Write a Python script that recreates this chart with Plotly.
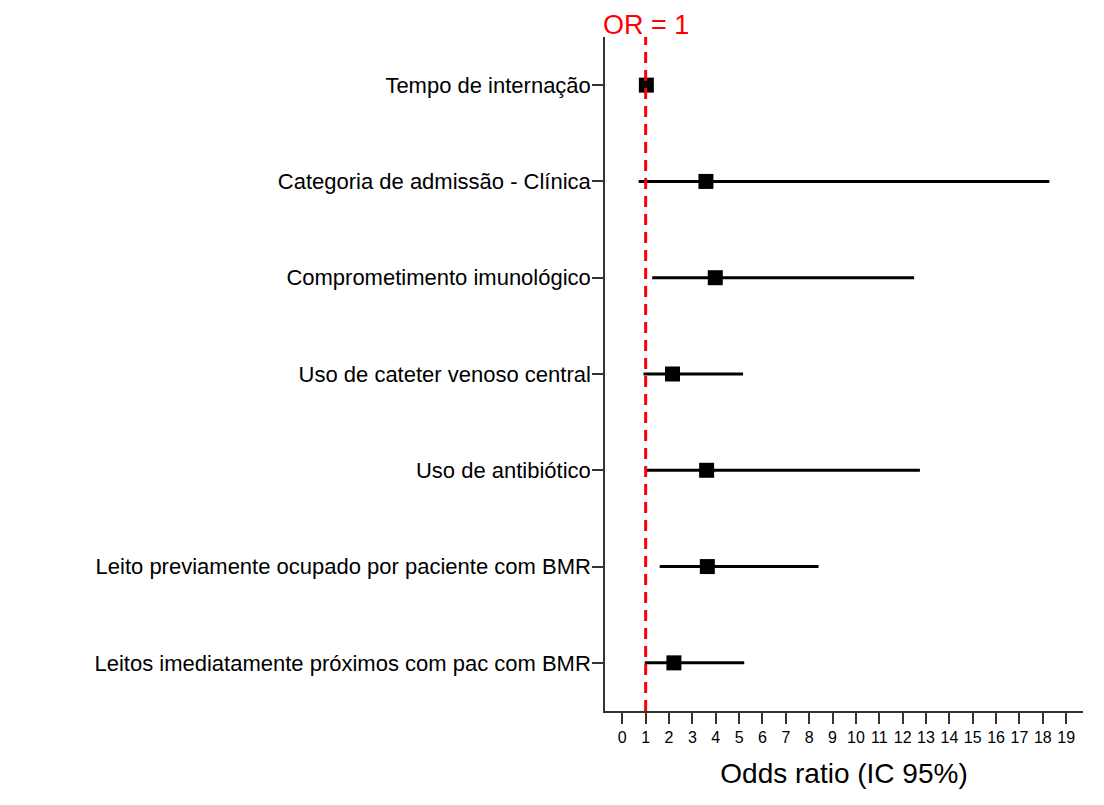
import plotly.graph_objects as go

categories = [
    "Tempo de internação",
    "Categoria de admissão - Clínica",
    "Comprometimento imunológico",
    "Uso de cateter venoso central",
    "Uso de antibiótico",
    "Leito previamente ocupado por paciente com BMR",
    "Leitos imediatamente próximos com pac com BMR",
]
odds_ratio = [1.03, 3.58, 3.98, 2.15, 3.61, 3.64, 2.21]
ci_lower = [1.01, 0.70, 1.28, 0.91, 1.03, 1.60, 0.96]
ci_upper = [1.05, 18.28, 12.49, 5.17, 12.74, 8.40, 5.22]
x_ticks = list(range(0, 20))

ypos = list(range(len(categories)))
err_plus = [u - o for u, o in zip(ci_upper, odds_ratio)]
err_minus = [o - l for o, l in zip(odds_ratio, ci_lower)]

FONT = "Liberation Sans, Arial, sans-serif"

fig = go.Figure()
fig.add_trace(go.Scatter(
    x=odds_ratio, y=ypos, mode="markers",
    marker=dict(symbol="square", size=15, color="black"),
    error_x=dict(type="data", symmetric=False, array=err_plus, arrayminus=err_minus,
                 color="black", thickness=3, width=0),
    showlegend=False,
))

fig.add_shape(type="line", xref="x", yref="paper", x0=1, x1=1, y0=0, y1=1,
              line=dict(color="red", width=3, dash="11px,7px"), layer="above")
fig.add_annotation(x=1, xref="x", y=1, yref="paper", yanchor="bottom", yshift=-5,
                   text="OR = 1", showarrow=False,
                   font=dict(family=FONT, size=27, color="red"))

fig.update_layout(
    width=1104, height=805,
    margin=dict(l=597, r=29, t=29, b=102),
    plot_bgcolor="white", paper_bgcolor="white",
    font=dict(family=FONT, color="black"),
)
fig.update_xaxes(
    range=[-0.74, 19.72], tickvals=x_ticks, ticktext=[str(t) for t in x_ticks],
    showgrid=False, zeroline=False, showline=True, linecolor="#333", linewidth=1.5,
    ticks="outside", ticklen=11, tickcolor="#333", tickwidth=1.5,
    tickfont=dict(size=16, family=FONT),
    title=dict(text="Odds ratio (IC 95%)", font=dict(size=28, family=FONT), standoff=18),
)
fig.update_yaxes(
    range=[6.5, -0.5], tickvals=ypos, ticktext=categories,
    showgrid=False, zeroline=False, showline=True, linecolor="#333", linewidth=1.5,
    ticks="outside", ticklen=11, tickcolor="#333", tickwidth=1.5,
    tickfont=dict(size=22, family=FONT), ticklabelstandoff=-3,
)

fig.write_html("out.html")
